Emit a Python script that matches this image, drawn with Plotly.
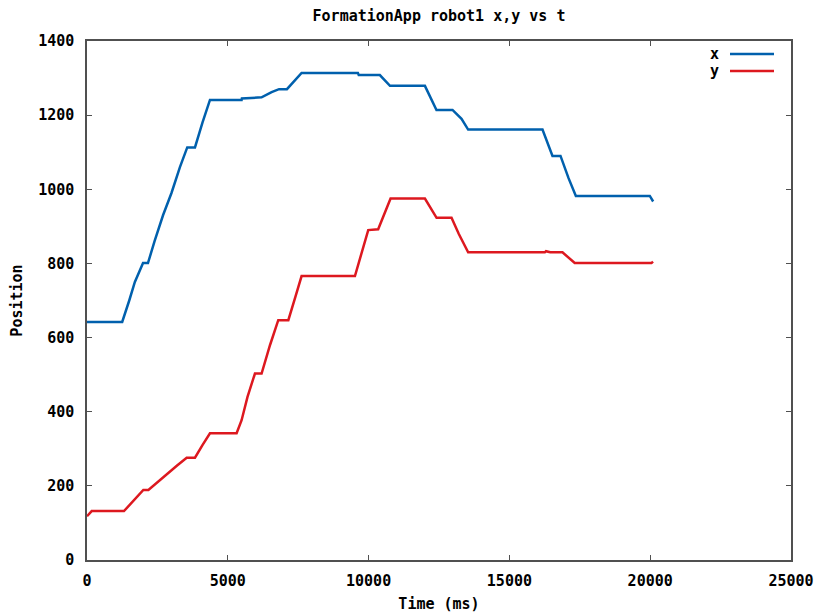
import plotly.graph_objects as go

# Robot x position (t in ms)
t_x = [0, 1250, 1500, 1700, 1990, 2165, 2400, 2700, 3000, 3300, 3560, 3834, 4100, 4367,
       5490, 5500, 6200, 6556, 6820, 7100, 7620, 9620, 9650, 10400, 10760, 12000, 12410,
       12980, 13300, 13535, 16175, 16530, 16815, 17100, 17360, 19986, 20105]
x_pos = [642, 642, 700, 750, 801, 801, 860, 930, 990, 1060, 1113, 1113, 1180, 1241,
         1241, 1245, 1248, 1262, 1270, 1270, 1314, 1314, 1308, 1308, 1279, 1279, 1214,
         1214, 1190, 1161, 1161, 1090, 1090, 1030, 982, 982, 967]

# Robot y position
t_y = [0, 167, 1314, 1700, 2000, 2180, 2500, 2770, 3200, 3540, 3834, 4100, 4367, 5313,
       5490, 5700, 5964, 6200, 6500, 6792, 7150, 7400, 7620, 9515, 9750, 9987, 10340,
       10780, 12000, 12414, 12945, 13200, 13535, 16260, 16300, 16450, 16885, 17320,
       20045, 20100]
y_pos = [118, 132, 132, 165, 189, 189, 210, 229, 255, 276, 276, 310, 342, 342,
         377, 440, 503, 503, 580, 647, 647, 710, 766, 766, 830, 890, 892,
         975, 975, 923, 923, 880, 830, 830, 833, 830, 830, 801,
         801, 805]

x_ticks = [0, 5000, 10000, 15000, 20000, 25000]
y_ticks = [0, 200, 400, 600, 800, 1000, 1200, 1400]

BLUE = "#0060ad"
RED = "#dd181f"
FONT = "DejaVu Sans Mono"
FS = 15

fig = go.Figure()
fig.add_trace(go.Scatter(x=t_x, y=x_pos, mode="lines", name="x",
                         line=dict(color=BLUE, width=2.5)))
fig.add_trace(go.Scatter(x=t_y, y=y_pos, mode="lines", name="y",
                         line=dict(color=RED, width=2.5)))

axis_common = dict(showgrid=False, zeroline=False, showline=True, linecolor="#505050",
                   linewidth=1.5, ticks="inside", ticklen=5, tickcolor="#505050",
                   mirror="allticks", automargin=False,
                   tickfont=dict(family=FONT, size=FS, color="black", weight="bold"))

fig.update_layout(
    width=817, height=615,
    margin=dict(l=87, r=26, t=41, b=55),
    paper_bgcolor="white", plot_bgcolor="white",
    showlegend=False,
    title=dict(text="FormationApp robot1 x,y vs t", x=(87 + 352) / 817, xanchor="center",
               y=1 - 16 / 615, yanchor="middle",
               font=dict(family=FONT, size=FS, color="black", weight="bold")),
    xaxis=dict(range=[0, 25000], tickvals=x_ticks, ticktext=[str(v) for v in x_ticks],
               ticklabelstandoff=6,
               title=dict(text="Time (ms)", standoff=10,
                          font=dict(family=FONT, size=FS, color="black", weight="bold")),
               **axis_common),
    yaxis=dict(range=[0, 1400], tickvals=y_ticks, ticktext=[str(v) for v in y_ticks],
               ticklabelstandoff=8,
               title=dict(text="Position", standoff=12,
                          font=dict(family=FONT, size=FS, color="black", weight="bold")),
               **axis_common),
)

# gnuplot-style key: label then line sample
for i, (name, col) in enumerate([("x", BLUE), ("y", RED)]):
    ypix = 54 + i * 17
    yp = 1 - (ypix - 41) / 519
    fig.add_annotation(x=(721 - 87) / 704, y=yp, xref="paper", yref="paper", text=name,
                       showarrow=False, xanchor="right", yanchor="middle",
                       font=dict(family=FONT, size=FS, color="black", weight="bold"))
    fig.add_shape(type="line", xref="paper", yref="paper",
                  x0=(730 - 87) / 704, x1=(774 - 87) / 704, y0=yp, y1=yp,
                  line=dict(color=col, width=2.5))

fig.write_html("out.html")
